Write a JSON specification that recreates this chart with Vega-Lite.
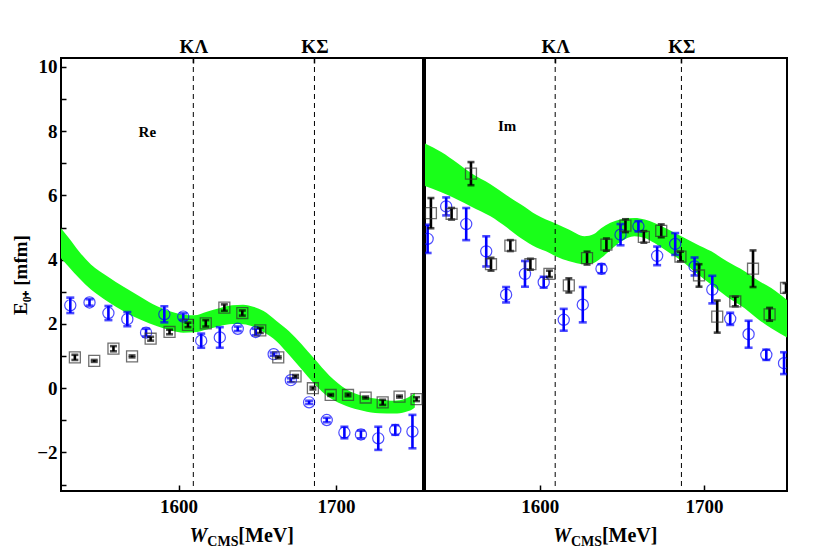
{
  "$schema": "https://vega.github.io/schema/vega-lite/v6.json",
  "background": "white",
  "padding": {"left": 10, "top": 36, "right": 0, "bottom": 0},
  "spacing": 0,
  "config": {
    "font": "Liberation Serif",
    "view": {"stroke": "black", "strokeWidth": 2},
    "axis": {
      "labelFont": "Liberation Serif", "labelFontWeight": "bold", "labelFontSize": 19, "labelColor": "black",
      "titleFont": "Liberation Serif", "titleFontWeight": "bold", "titleFontSize": 19, "titleColor": "black",
      "domain": false, "grid": false, "tickColor": "black", "tickWidth": 1.5
    }
  },
  "datasets": {
    "bandRe": [
      {"W":1525,"lo":4.07,"hi":5.0},{"W":1530,"lo":3.8,"hi":4.7},{"W":1537,"lo":3.42,"hi":4.25},{"W":1544.4,"lo":3.07,"hi":3.85},
      {"W":1555,"lo":2.7,"hi":3.48},{"W":1565.4,"lo":2.39,"hi":3.15},{"W":1576,"lo":2.13,"hi":2.84},{"W":1586.5,"lo":1.93,"hi":2.55},
      {"W":1596,"lo":1.79,"hi":2.37},{"W":1603,"lo":1.73,"hi":2.29},{"W":1610,"lo":1.74,"hi":2.27},{"W":1618,"lo":1.83,"hi":2.38},
      {"W":1626.4,"lo":1.94,"hi":2.5},{"W":1634,"lo":2.0,"hi":2.58},{"W":1641,"lo":1.99,"hi":2.6},{"W":1648,"lo":1.9,"hi":2.53},
      {"W":1654,"lo":1.75,"hi":2.4},{"W":1662,"lo":1.47,"hi":2.1},{"W":1670,"lo":1.05,"hi":1.78},{"W":1678,"lo":0.6,"hi":1.38},
      {"W":1686,"lo":0.15,"hi":0.93},{"W":1696,"lo":-0.3,"hi":0.38},{"W":1706.5,"lo":-0.55,"hi":-0.03},{"W":1717,"lo":-0.7,"hi":-0.24},
      {"W":1727.5,"lo":-0.78,"hi":-0.34},{"W":1737,"lo":-0.79,"hi":-0.39},{"W":1744,"lo":-0.74,"hi":-0.33},{"W":1748,"lo":-0.67,"hi":-0.22},
      {"W":1750,"lo":-0.6,"hi":-0.14}
    ],
    "bandIm": [
      {"W":1530,"lo":6.3,"hi":7.62},{"W":1540,"lo":6.1,"hi":7.35},{"W":1550,"lo":5.87,"hi":7.0},{"W":1558.1,"lo":5.66,"hi":6.7},
      {"W":1570,"lo":5.35,"hi":6.35},{"W":1580,"lo":5.0,"hi":6.0},{"W":1588.6,"lo":4.67,"hi":5.72},{"W":1598,"lo":4.38,"hi":5.4},
      {"W":1603.8,"lo":4.26,"hi":5.25},{"W":1610,"lo":4.1,"hi":5.12},{"W":1618,"lo":3.95,"hi":4.93},{"W":1627.2,"lo":3.86,"hi":4.73},
      {"W":1633,"lo":3.9,"hi":4.8},{"W":1637.4,"lo":4.05,"hi":4.98},{"W":1643,"lo":4.3,"hi":5.15},{"W":1649.6,"lo":4.57,"hi":5.26},
      {"W":1657.7,"lo":4.73,"hi":5.3},{"W":1664,"lo":4.68,"hi":5.25},{"W":1669.9,"lo":4.52,"hi":5.14},{"W":1678,"lo":4.25,"hi":4.95},
      {"W":1686.2,"lo":3.97,"hi":4.73},{"W":1695,"lo":3.6,"hi":4.5},{"W":1704.5,"lo":3.22,"hi":4.26},{"W":1714,"lo":2.85,"hi":3.95},
      {"W":1724.8,"lo":2.49,"hi":3.64},{"W":1733,"lo":2.15,"hi":3.35},{"W":1741,"lo":1.87,"hi":3.12},{"W":1750.6,"lo":1.58,"hi":2.75}
    ],
    "thr": [{"W":1609.4},{"W":1686.3}],
    "blueRe": [
      {"W":1531.3,"y":2.58,"lo":2.34,"hi":2.82},{"W":1543.5,"y":2.67,"lo":2.57,"hi":2.77},{"W":1555.5,"y":2.34,"lo":2.12,"hi":2.56},
      {"W":1567.5,"y":2.15,"lo":1.93,"hi":2.37},{"W":1579.4,"y":1.73,"lo":1.61,"hi":1.85},{"W":1591.0,"y":2.3,"lo":2.05,"hi":2.55},
      {"W":1603.0,"y":2.23,"lo":2.13,"hi":2.33},{"W":1614.4,"y":1.48,"lo":1.26,"hi":1.7},{"W":1626.2,"y":1.58,"lo":1.26,"hi":1.9},
      {"W":1637.6,"y":1.85,"lo":1.78,"hi":1.92},{"W":1649.0,"y":1.75,"lo":1.65,"hi":1.85},{"W":1660.4,"y":1.06,"lo":1.01,"hi":1.11},
      {"W":1671.3,"y":0.25,"lo":0.19,"hi":0.31},{"W":1682.9,"y":-0.44,"lo":-0.49,"hi":-0.39},{"W":1694.1,"y":-0.99,"lo":-1.06,"hi":-0.92},
      {"W":1705.3,"y":-1.38,"lo":-1.56,"hi":-1.2},{"W":1715.8,"y":-1.44,"lo":-1.56,"hi":-1.32},{"W":1726.8,"y":-1.56,"lo":-1.92,"hi":-1.2},
      {"W":1737.6,"y":-1.3,"lo":-1.45,"hi":-1.15},{"W":1748.5,"y":-1.35,"lo":-1.87,"hi":-0.83}
    ],
    "blackRe": [
      {"W":1534.2,"y":0.96,"lo":0.88,"hi":1.04},{"W":1546.5,"y":0.85,"lo":0.82,"hi":0.88},{"W":1558.7,"y":1.23,"lo":1.15,"hi":1.31},
      {"W":1570.5,"y":0.99,"lo":0.96,"hi":1.02},{"W":1582.3,"y":1.54,"lo":1.48,"hi":1.6},{"W":1594.3,"y":1.75,"lo":1.68,"hi":1.82},
      {"W":1606.0,"y":1.97,"lo":1.9,"hi":2.04},{"W":1617.3,"y":2.02,"lo":1.92,"hi":2.12},{"W":1629.1,"y":2.51,"lo":2.41,"hi":2.61},
      {"W":1640.5,"y":2.34,"lo":2.26,"hi":2.42},{"W":1651.9,"y":1.8,"lo":1.72,"hi":1.88},{"W":1663.3,"y":0.96,"lo":0.93,"hi":0.99},
      {"W":1674.3,"y":0.37,"lo":0.33,"hi":0.41},{"W":1685.3,"y":0.0,"lo":-0.04,"hi":0.04},{"W":1696.6,"y":-0.21,"lo":-0.24,"hi":-0.18},
      {"W":1707.6,"y":-0.21,"lo":-0.25,"hi":-0.17},{"W":1718.8,"y":-0.29,"lo":-0.32,"hi":-0.26},{"W":1729.6,"y":-0.44,"lo":-0.52,"hi":-0.36},
      {"W":1740.3,"y":-0.26,"lo":-0.29,"hi":-0.23},{"W":1751.1,"y":-0.34,"lo":-0.4,"hi":-0.28}
    ],
    "blueIm": [
      {"W":1531.7,"y":4.65,"lo":4.21,"hi":5.09},{"W":1543.0,"y":5.66,"lo":5.38,"hi":5.94},{"W":1555.2,"y":5.11,"lo":4.61,"hi":5.61},
      {"W":1567.4,"y":4.26,"lo":3.79,"hi":4.73},{"W":1579.5,"y":2.91,"lo":2.67,"hi":3.15},{"W":1591.0,"y":3.56,"lo":3.16,"hi":3.96},
      {"W":1602.4,"y":3.3,"lo":3.13,"hi":3.47},{"W":1614.6,"y":2.13,"lo":1.79,"hi":2.47},{"W":1626.2,"y":2.6,"lo":2.05,"hi":3.15},
      {"W":1637.6,"y":3.72,"lo":3.58,"hi":3.86},{"W":1649.2,"y":4.78,"lo":4.45,"hi":5.11},{"W":1660.1,"y":5.04,"lo":4.88,"hi":5.2},
      {"W":1671.5,"y":4.12,"lo":3.83,"hi":4.41},{"W":1682.5,"y":4.49,"lo":4.15,"hi":4.83},{"W":1694.3,"y":3.79,"lo":3.51,"hi":4.07},
      {"W":1705.1,"y":3.07,"lo":2.64,"hi":3.5},{"W":1716.0,"y":2.16,"lo":1.97,"hi":2.35},{"W":1727.2,"y":1.68,"lo":1.26,"hi":2.1},
      {"W":1738.0,"y":1.04,"lo":0.88,"hi":1.2},{"W":1748.8,"y":0.78,"lo":0.44,"hi":1.12}
    ],
    "blackIm": [
      {"W":1533.7,"y":5.45,"lo":4.98,"hi":5.92},{"W":1546.3,"y":5.43,"lo":5.25,"hi":5.61},{"W":1558.1,"y":6.68,"lo":6.32,"hi":7.04},
      {"W":1570.3,"y":3.86,"lo":3.66,"hi":4.06},{"W":1582.1,"y":4.44,"lo":4.27,"hi":4.61},{"W":1594.3,"y":3.86,"lo":3.69,"hi":4.03},
      {"W":1605.9,"y":3.56,"lo":3.46,"hi":3.66},{"W":1617.7,"y":3.2,"lo":2.98,"hi":3.42},{"W":1628.8,"y":4.05,"lo":3.85,"hi":4.25},
      {"W":1640.6,"y":4.47,"lo":4.28,"hi":4.66},{"W":1652.2,"y":5.06,"lo":4.86,"hi":5.26},{"W":1663.4,"y":4.71,"lo":4.53,"hi":4.89},
      {"W":1674.0,"y":4.9,"lo":4.7,"hi":5.1},{"W":1685.7,"y":4.1,"lo":3.95,"hi":4.25},{"W":1697.0,"y":3.51,"lo":3.16,"hi":3.86},
      {"W":1708.1,"y":2.23,"lo":1.73,"hi":2.73},{"W":1719.1,"y":2.7,"lo":2.55,"hi":2.85},{"W":1729.9,"y":3.72,"lo":3.15,"hi":4.29},
      {"W":1740.0,"y":2.3,"lo":2.1,"hi":2.5},{"W":1750.0,"y":3.12,"lo":2.97,"hi":3.27}
    ]
  },
  "hconcat": [
    {
      "width": 362, "height": 433,
      "resolve": {"axis": {"x": "independent", "y": "independent"}},
      "layer": [
        {
          "data": {"name": "bandRe"},
          "mark": {"type": "area", "color": "#19ff19", "opacity": 1, "interpolate": "monotone", "clip": true},
          "encoding": {
            "x": {"field": "W", "type": "quantitative", "scale": {"domain": [1525.4, 1755.2], "nice": false, "zero": false},
                  "axis": {"values": [1600, 1700], "format": "d", "tickSize": -6, "labelPadding": 12, "title": null}},
            "y": {"field": "lo", "type": "quantitative", "scale": {"domain": [-3.2, 10.28], "nice": false, "zero": false},
                  "axis": {"orient": "left", "values": [-3,-2.5,-2,-1.5,-1,-0.5,0,0.5,1,1.5,2,2.5,3,3.5,4,4.5,5,5.5,6,6.5,7,7.5,8,8.5,9,9.5,10],
                           "format": "d", "labelExpr": "datum.value % 2 === 0 ? datum.label : ''",
                           "tickSize": -5, "labelPadding": 9, "title": "E₀₊ [mfm]", "titlePadding": 6}},
            "y2": {"field": "hi"}
          }
        },
        {
          "data": {"name": "thr"},
          "mark": {"type": "rule", "color": "black", "strokeWidth": 1, "strokeDash": [5, 4]},
          "encoding": {
            "x": {"field": "W", "type": "quantitative", "scale": {"domain": [1525.4, 1755.2], "nice": false, "zero": false},
                  "axis": {"orient": "top", "values": [1609.4, 1686.3], "labelExpr": "datum.value < 1650 ? 'KΛ' : 'KΣ'",
                           "tickSize": -5, "labelPadding": 7, "title": null}}
          }
        },
        {
          "encoding": {"x": {"field": "W", "type": "quantitative", "scale": {"domain": [1525.4, 1755.2], "nice": false, "zero": false}, "axis": null}},
          "layer": [
            {"data": {"name": "blueRe"}, "mark": {"type": "rule", "color": "blue", "strokeWidth": 2.6, "clip": true},
             "encoding": {"y": {"field": "lo", "type": "quantitative", "scale": {"domain": [-3.2, 10.28], "nice": false, "zero": false}, "axis": null}, "y2": {"field": "hi"}}},
            {"data": {"name": "blueRe"}, "mark": {"type": "tick", "orient": "horizontal", "color": "blue", "size": 8, "thickness": 2.6, "clip": true},
             "encoding": {"y": {"field": "lo", "type": "quantitative", "scale": {"domain": [-3.2, 10.28], "nice": false, "zero": false}, "axis": null}}},
            {"data": {"name": "blueRe"}, "mark": {"type": "tick", "orient": "horizontal", "color": "blue", "size": 8, "thickness": 2.6, "clip": true},
             "encoding": {"y": {"field": "hi", "type": "quantitative", "scale": {"domain": [-3.2, 10.28], "nice": false, "zero": false}, "axis": null}}},
            {"data": {"name": "blueRe"}, "mark": {"type": "point", "shape": "circle", "filled": false, "size": 125, "stroke": "blue", "strokeWidth": 1.2, "clip": true},
             "encoding": {"y": {"field": "y", "type": "quantitative", "scale": {"domain": [-3.2, 10.28], "nice": false, "zero": false}, "axis": null}}},
            {"data": {"name": "blackRe"}, "mark": {"type": "rule", "color": "black", "strokeWidth": 2.6, "clip": true},
             "encoding": {"y": {"field": "lo", "type": "quantitative", "scale": {"domain": [-3.2, 10.28], "nice": false, "zero": false}, "axis": null}, "y2": {"field": "hi"}}},
            {"data": {"name": "blackRe"}, "mark": {"type": "tick", "orient": "horizontal", "color": "black", "size": 7, "thickness": 2.6, "clip": true},
             "encoding": {"y": {"field": "lo", "type": "quantitative", "scale": {"domain": [-3.2, 10.28], "nice": false, "zero": false}, "axis": null}}},
            {"data": {"name": "blackRe"}, "mark": {"type": "tick", "orient": "horizontal", "color": "black", "size": 7, "thickness": 2.6, "clip": true},
             "encoding": {"y": {"field": "hi", "type": "quantitative", "scale": {"domain": [-3.2, 10.28], "nice": false, "zero": false}, "axis": null}}},
            {"data": {"name": "blackRe"}, "mark": {"type": "point", "shape": "square", "filled": false, "size": 120, "stroke": "#333333", "strokeWidth": 1.3, "clip": true},
             "encoding": {"y": {"field": "y", "type": "quantitative", "scale": {"domain": [-3.2, 10.28], "nice": false, "zero": false}, "axis": null}}},
            {"data": {"values": [{"W": 1580.2, "y": 7.97, "t": "Re"}]},
             "mark": {"type": "text", "font": "Liberation Serif", "fontWeight": "bold", "fontSize": 15, "color": "black", "baseline": "middle", "align": "center"},
             "encoding": {"text": {"field": "t"}, "y": {"field": "y", "type": "quantitative", "scale": {"domain": [-3.2, 10.28], "nice": false, "zero": false}, "axis": null}}},
            {"data": {"values": [{"W": 1618.3, "y": -4.8, "t": "W"}]},
             "mark": {"type": "text", "font": "Liberation Serif", "fontWeight": "bold", "fontStyle": "italic", "fontSize": 20, "color": "black", "baseline": "alphabetic", "align": "right", "dx": 0},
             "encoding": {"text": {"field": "t"}, "y": {"field": "y", "type": "quantitative", "scale": {"domain": [-3.2, 10.28], "nice": false, "zero": false}, "axis": null}}},
            {"data": {"values": [{"W": 1618.3, "y": -4.8, "t": "CMS"}]},
             "mark": {"type": "text", "font": "Liberation Serif", "fontWeight": "bold", "fontSize": 14, "color": "black", "baseline": "alphabetic", "align": "left", "dy": 4},
             "encoding": {"text": {"field": "t"}, "y": {"field": "y", "type": "quantitative", "scale": {"domain": [-3.2, 10.28], "nice": false, "zero": false}, "axis": null}}},
            {"data": {"values": [{"W": 1618.3, "y": -4.8, "t": "[MeV]"}]},
             "mark": {"type": "text", "font": "Liberation Serif", "fontWeight": "bold", "fontSize": 20, "color": "black", "baseline": "alphabetic", "align": "left", "dx": 31},
             "encoding": {"text": {"field": "t"}, "y": {"field": "y", "type": "quantitative", "scale": {"domain": [-3.2, 10.28], "nice": false, "zero": false}, "axis": null}}}
          ]
        }
      ]
    },
    {
      "width": 362, "height": 433,
      "resolve": {"axis": {"x": "independent"}},
      "layer": [
        {
          "data": {"name": "bandIm"},
          "mark": {"type": "area", "color": "#19ff19", "opacity": 1, "interpolate": "monotone", "clip": true},
          "encoding": {
            "x": {"field": "W", "type": "quantitative", "scale": {"domain": [1530.1, 1750.6], "nice": false, "zero": false},
                  "axis": {"values": [1600, 1700], "format": "d", "tickSize": -6, "labelPadding": 12, "title": null}},
            "y": {"field": "lo", "type": "quantitative", "scale": {"domain": [-3.2, 10.28], "nice": false, "zero": false}, "axis": null},
            "y2": {"field": "hi"}
          }
        },
        {
          "data": {"name": "thr"},
          "mark": {"type": "rule", "color": "black", "strokeWidth": 1, "strokeDash": [5, 4]},
          "encoding": {
            "x": {"field": "W", "type": "quantitative", "scale": {"domain": [1530.1, 1750.6], "nice": false, "zero": false},
                  "axis": {"orient": "top", "values": [1609.4, 1686.3], "labelExpr": "datum.value < 1650 ? 'KΛ' : 'KΣ'",
                           "tickSize": -5, "labelPadding": 7, "title": null}}
          }
        },
        {
          "encoding": {"x": {"field": "W", "type": "quantitative", "scale": {"domain": [1530.1, 1750.6], "nice": false, "zero": false}, "axis": null}},
          "layer": [
            {"data": {"name": "blueIm"}, "mark": {"type": "rule", "color": "blue", "strokeWidth": 2.6, "clip": true},
             "encoding": {"y": {"field": "lo", "type": "quantitative", "scale": {"domain": [-3.2, 10.28], "nice": false, "zero": false}, "axis": null}, "y2": {"field": "hi"}}},
            {"data": {"name": "blueIm"}, "mark": {"type": "tick", "orient": "horizontal", "color": "blue", "size": 8, "thickness": 2.6, "clip": true},
             "encoding": {"y": {"field": "lo", "type": "quantitative", "scale": {"domain": [-3.2, 10.28], "nice": false, "zero": false}, "axis": null}}},
            {"data": {"name": "blueIm"}, "mark": {"type": "tick", "orient": "horizontal", "color": "blue", "size": 8, "thickness": 2.6, "clip": true},
             "encoding": {"y": {"field": "hi", "type": "quantitative", "scale": {"domain": [-3.2, 10.28], "nice": false, "zero": false}, "axis": null}}},
            {"data": {"name": "blueIm"}, "mark": {"type": "point", "shape": "circle", "filled": false, "size": 125, "stroke": "blue", "strokeWidth": 1.2, "clip": true},
             "encoding": {"y": {"field": "y", "type": "quantitative", "scale": {"domain": [-3.2, 10.28], "nice": false, "zero": false}, "axis": null}}},
            {"data": {"name": "blackIm"}, "mark": {"type": "rule", "color": "black", "strokeWidth": 2.6, "clip": true},
             "encoding": {"y": {"field": "lo", "type": "quantitative", "scale": {"domain": [-3.2, 10.28], "nice": false, "zero": false}, "axis": null}, "y2": {"field": "hi"}}},
            {"data": {"name": "blackIm"}, "mark": {"type": "tick", "orient": "horizontal", "color": "black", "size": 7, "thickness": 2.6, "clip": true},
             "encoding": {"y": {"field": "lo", "type": "quantitative", "scale": {"domain": [-3.2, 10.28], "nice": false, "zero": false}, "axis": null}}},
            {"data": {"name": "blackIm"}, "mark": {"type": "tick", "orient": "horizontal", "color": "black", "size": 7, "thickness": 2.6, "clip": true},
             "encoding": {"y": {"field": "hi", "type": "quantitative", "scale": {"domain": [-3.2, 10.28], "nice": false, "zero": false}, "axis": null}}},
            {"data": {"name": "blackIm"}, "mark": {"type": "point", "shape": "square", "filled": false, "size": 120, "stroke": "#333333", "strokeWidth": 1.3, "clip": true},
             "encoding": {"y": {"field": "y", "type": "quantitative", "scale": {"domain": [-3.2, 10.28], "nice": false, "zero": false}, "axis": null}}},
            {"data": {"values": [{"W": 1580.1, "y": 8.17, "t": "Im"}]},
             "mark": {"type": "text", "font": "Liberation Serif", "fontWeight": "bold", "fontSize": 15, "color": "black", "baseline": "middle", "align": "center"},
             "encoding": {"text": {"field": "t"}, "y": {"field": "y", "type": "quantitative", "scale": {"domain": [-3.2, 10.28], "nice": false, "zero": false}, "axis": null}}},
            {"data": {"values": [{"W": 1619.0, "y": -4.8, "t": "W"}]},
             "mark": {"type": "text", "font": "Liberation Serif", "fontWeight": "bold", "fontStyle": "italic", "fontSize": 20, "color": "black", "baseline": "alphabetic", "align": "right", "dx": 0},
             "encoding": {"text": {"field": "t"}, "y": {"field": "y", "type": "quantitative", "scale": {"domain": [-3.2, 10.28], "nice": false, "zero": false}, "axis": null}}},
            {"data": {"values": [{"W": 1619.0, "y": -4.8, "t": "CMS"}]},
             "mark": {"type": "text", "font": "Liberation Serif", "fontWeight": "bold", "fontSize": 14, "color": "black", "baseline": "alphabetic", "align": "left", "dy": 4},
             "encoding": {"text": {"field": "t"}, "y": {"field": "y", "type": "quantitative", "scale": {"domain": [-3.2, 10.28], "nice": false, "zero": false}, "axis": null}}},
            {"data": {"values": [{"W": 1619.0, "y": -4.8, "t": "[MeV]"}]},
             "mark": {"type": "text", "font": "Liberation Serif", "fontWeight": "bold", "fontSize": 20, "color": "black", "baseline": "alphabetic", "align": "left", "dx": 31},
             "encoding": {"text": {"field": "t"}, "y": {"field": "y", "type": "quantitative", "scale": {"domain": [-3.2, 10.28], "nice": false, "zero": false}, "axis": null}}}
          ]
        }
      ]
    }
  ]
}
